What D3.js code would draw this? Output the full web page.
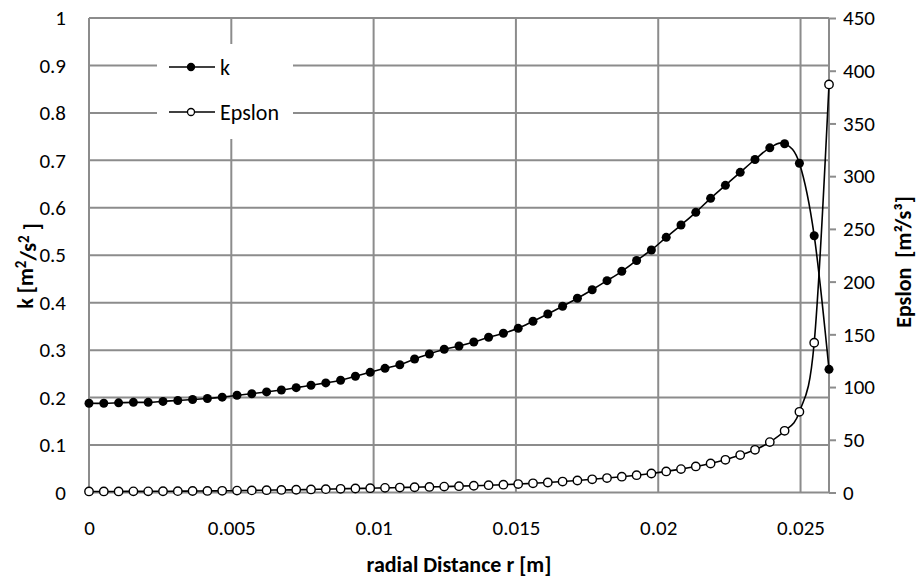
<!doctype html>
<html>
<head>
<meta charset="utf-8" />
<title>k and Epslon vs radial distance</title>
<script src="https://cdn.jsdelivr.net/npm/d3@7"></script>
<style>
 body { margin: 0; background: #fff; }
 text { font-family: Carlito, Calibri, Lato, sans-serif; fill: #000; white-space: pre; }
</style>
</head>
<body>
<script type="text/javascript">

 // radial positions [m]
 var rValues = [0, 0.00052, 0.00104, 0.00156, 0.00208, 0.0026, 0.00312, 0.00364, 0.00416, 0.00468,
		0.0052, 0.00572, 0.00624, 0.00676, 0.00728, 0.0078, 0.00832, 0.00884, 0.00936, 0.00988,
		0.0104, 0.01092, 0.01144, 0.01196, 0.01248, 0.013, 0.01352, 0.01404, 0.01456, 0.01508,
		0.0156, 0.01612, 0.01664, 0.01716, 0.01768, 0.0182, 0.01872, 0.01924, 0.01976, 0.02028,
		0.0208, 0.02132, 0.02184, 0.02236, 0.02288, 0.0234, 0.02392, 0.02444, 0.02496, 0.02548, 0.026];

 // k [m2/s2]
 var kValues = [0.188, 0.188, 0.189, 0.190, 0.190, 0.192, 0.194, 0.196, 0.198, 0.201,
		0.205, 0.208, 0.212, 0.216, 0.221, 0.226, 0.231, 0.2365, 0.245, 0.2533,
		0.2617, 0.2693, 0.2813, 0.2919, 0.3018, 0.3087, 0.3172, 0.3271, 0.3355, 0.3460,
		0.3608, 0.3762, 0.3924, 0.4093, 0.4274, 0.4464, 0.4662, 0.4890, 0.5111, 0.5378,
		0.5637, 0.5905, 0.6200, 0.6474, 0.6748, 0.7018, 0.7263, 0.7351, 0.6938, 0.5412, 0.2596];

 // Epslon [m2/s3]
 var epsValues = [1.0, 1.0, 1.0, 1.1, 1.1, 1.2, 1.3, 1.4, 1.5, 1.6,
		  1.8, 2.0, 2.2, 2.4, 2.6, 2.9, 3.2, 3.5, 3.8, 4.1,
		  4.4, 4.7, 5.0, 5.3, 5.6, 6.0, 6.4, 6.9, 7.4, 8.0,
		  8.7, 9.5, 10.4, 11.4, 12.5, 13.7, 15.0, 16.4, 18.0, 20.0,
		  22.2, 24.7, 27.5, 31.0, 35.5, 40.5, 47.8, 58.5, 76.5, 142, 387];

 var rTicks = [0, 0.005, 0.01, 0.015, 0.02, 0.025];
 var kTicks = [0, 0.1, 0.2, 0.3, 0.4, 0.5, 0.6, 0.7, 0.8, 0.9, 1];
 var epsTicks = [0, 50, 100, 150, 200, 250, 300, 350, 400, 450];
 var seriesNames = ["k", "Epslon"];

 var w = 920;
 var h = 579;
 var pLeft = 89, pRight = 829, pTop = 18, pBottom = 492.5;
 var gridColor = "#8c8c8c";

 var svg = d3.select("body")
	     .append("svg")
	     .attr("width", w)
	     .attr("height", h);

 var xScale = d3.scaleLinear().domain([0, 0.026]).range([pLeft, pRight]);
 var kScale = d3.scaleLinear().domain([0, 1]).range([pBottom, pTop]);
 var epsScale = d3.scaleLinear().domain([0, 450]).range([pBottom, pTop]);

 var fmt = function(d){ return String(+d.toFixed(4)); };

 // gridlines
 svg.append("g")
    .selectAll("line")
    .data(kTicks)
    .enter()
    .append("line")
    .attr("x1", pLeft).attr("x2", pRight)
    .attr("y1", function(d){ return kScale(d); })
    .attr("y2", function(d){ return kScale(d); })
    .attr("stroke", gridColor)
    .attr("stroke-width", 2);

 svg.append("g")
    .selectAll("line")
    .data(rTicks)
    .enter()
    .append("line")
    .attr("x1", function(d){ return xScale(d); })
    .attr("x2", function(d){ return xScale(d); })
    .attr("y1", pTop).attr("y2", pBottom)
    .attr("stroke", gridColor)
    .attr("stroke-width", 2);

 // right axis line
 svg.append("line")
    .attr("x1", pRight).attr("x2", pRight)
    .attr("y1", pTop).attr("y2", pBottom)
    .attr("stroke", gridColor)
    .attr("stroke-width", 2);

 // axes (labels only, except right ticks)
 var xAxis = svg.append("g")
		.attr("transform", "translate(0," + pBottom + ")")
		.call(d3.axisBottom(xScale).tickValues(rTicks).tickFormat(fmt).tickSize(0).tickPadding(28));

 var yAxisL = svg.append("g")
		 .attr("transform", "translate(" + pLeft + ",0)")
		 .call(d3.axisLeft(kScale).tickValues(kTicks).tickFormat(fmt).tickSize(0).tickPadding(23));

 var yAxisR = svg.append("g")
		 .attr("transform", "translate(" + pRight + ",0)")
		 .call(d3.axisRight(epsScale).tickValues(epsTicks).tickFormat(fmt).tickSize(7).tickPadding(7));

 [xAxis, yAxisL, yAxisR].forEach(function(a){
     a.select(".domain").remove();
     a.selectAll("text").attr("font-size", "21px").attr("fill", "#000");
     a.selectAll("line").attr("stroke", gridColor).attr("stroke-width", 2);
 });

 // legend box
 svg.append("rect")
    .attr("x", 157).attr("y", 44)
    .attr("width", 136).attr("height", 95)
    .attr("fill", "#fff");

 // series
 var kLine = d3.line()
	       .x(function(d, i){ return xScale(rValues[i]); })
	       .y(function(d){ return kScale(d); })
	       .curve(d3.curveCatmullRom.alpha(0));

 var epsLine = d3.line()
		 .x(function(d, i){ return xScale(rValues[i]); })
		 .y(function(d){ return epsScale(d); })
		 .curve(d3.curveCatmullRom.alpha(0));

 svg.append("path")
    .datum(kValues)
    .attr("d", kLine)
    .attr("fill", "none")
    .attr("stroke", "#000")
    .attr("stroke-width", 1.6);

 svg.selectAll("circle.k")
    .data(kValues)
    .enter()
    .append("circle")
    .attr("class", "k")
    .attr("cx", function(d, i){ return xScale(rValues[i]); })
    .attr("cy", function(d){ return kScale(d); })
    .attr("r", 4.5)
    .attr("fill", "#000");

 svg.append("path")
    .datum(epsValues)
    .attr("d", epsLine)
    .attr("fill", "none")
    .attr("stroke", "#000")
    .attr("stroke-width", 1.6);

 svg.selectAll("circle.eps")
    .data(epsValues)
    .enter()
    .append("circle")
    .attr("class", "eps")
    .attr("cx", function(d, i){ return xScale(rValues[i]); })
    .attr("cy", function(d){ return epsScale(d); })
    .attr("r", 4.2)
    .attr("fill", "#fff")
    .attr("stroke", "#000")
    .attr("stroke-width", 1.4);

 // legend entries
 var legend = svg.selectAll("g.legend")
		 .data(seriesNames)
		 .enter()
		 .append("g")
		 .attr("class", "legend")
		 .attr("transform", function(d, i){ return "translate(169," + (67 + i * 45) + ")"; });

 legend.append("line")
       .attr("x1", 0).attr("x2", 46)
       .attr("stroke", "#000")
       .attr("stroke-width", 1.6);

 legend.append("circle")
       .attr("cx", 22)
       .attr("r", 3.5)
       .attr("fill", function(d, i){ return i == 0 ? "#000" : "#fff"; })
       .attr("stroke", "#000")
       .attr("stroke-width", 1.3);

 legend.append("text")
       .attr("x", 51)
       .attr("dy", "0.35em")
       .attr("font-size", "22px")
       .text(function(d){ return d; });

 // axis titles
 svg.append("text")
    .attr("x", 459).attr("y", 572)
    .attr("text-anchor", "middle")
    .attr("font-size", "22px")
    .attr("font-weight", "bold")
    .text("radial Distance r [m]");

 var kTitle = svg.append("text")
		 .attr("transform", "translate(33,266) rotate(-90)")
		 .attr("text-anchor", "middle")
		 .attr("font-size", "22px")
		 .attr("font-weight", "bold");
 kTitle.append("tspan").text("k [m");
 kTitle.append("tspan").attr("dy", "-0.45em").attr("font-size", "15px").text("2");
 kTitle.append("tspan").attr("dy", "0.45em").text("/s");
 kTitle.append("tspan").attr("dy", "-0.45em").attr("font-size", "15px").text("2");
 kTitle.append("tspan").attr("dy", "0.45em").text(" ]");

 svg.append("text")
    .attr("transform", "translate(911,262) rotate(-90)")
    .attr("text-anchor", "middle")
    .attr("font-size", "22px")
    .attr("font-weight", "bold")
    .text("Epslon  [m²/s³]");

</script>
</body>
</html>
